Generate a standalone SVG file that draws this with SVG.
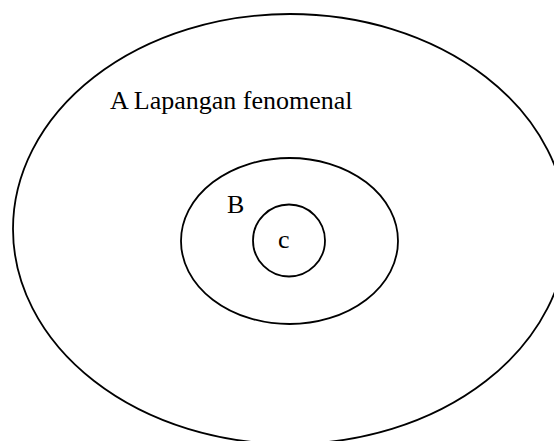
<svg xmlns="http://www.w3.org/2000/svg" width="554" height="441" viewBox="0 0 554 441">
<style>
.s{fill:none;stroke:#000;stroke-width:1.8}
.t{font-family:"Liberation Serif",serif;font-size:26px;fill:#000}
</style>
<rect width="554" height="441" fill="#fff"/>
<g id="A"><ellipse class="s" cx="290" cy="229" rx="277" ry="215"/><text class="t" x="110" y="109">A Lapangan fenomenal</text></g>
<g id="B"><ellipse class="s" cx="289.5" cy="241" rx="108.5" ry="83"/><text class="t" x="227" y="213">B</text></g>
<g id="C"><circle class="s" cx="289" cy="240.5" r="36"/><text class="t" x="278" y="248">c</text></g>
<g id="connectors"/>
</svg>
